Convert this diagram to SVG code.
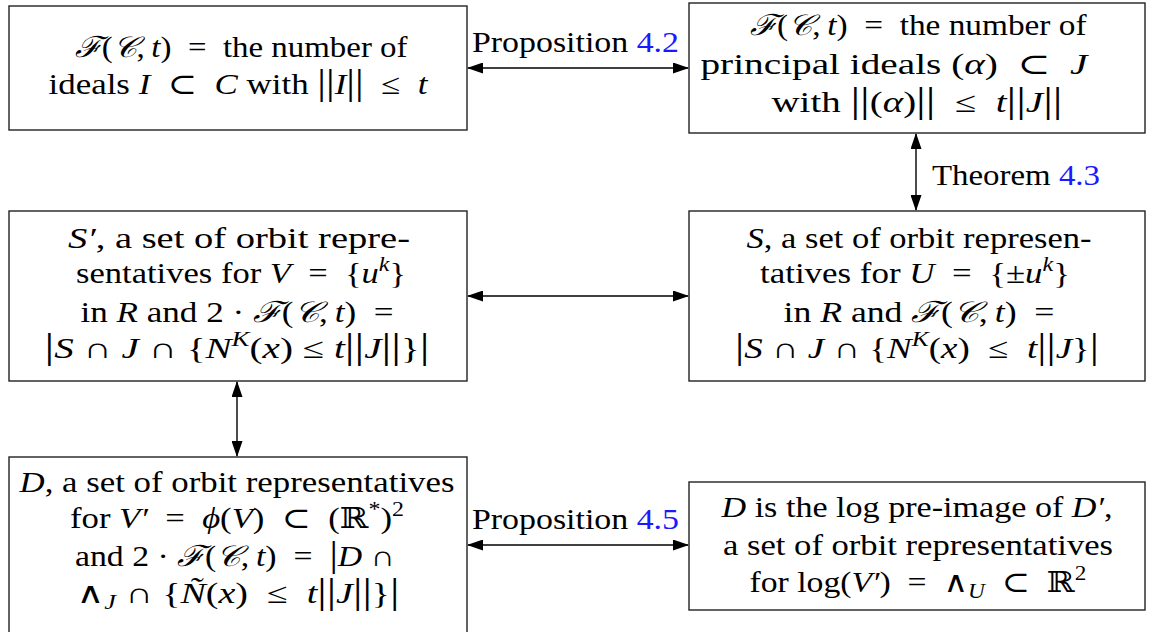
<svg xmlns="http://www.w3.org/2000/svg" width="1153" height="632" viewBox="0 0 1153 632">
<style>
.box{fill:#fff;stroke:#222;stroke-width:1.4}
.t{font-family:"Liberation Serif","DejaVu Serif",serif;font-size:29px;fill:#000;text-anchor:middle}
.l{font-family:"Liberation Serif","DejaVu Serif",serif;font-size:29px;fill:#000}
.i{font-style:italic}
.s{font-size:20px}
.b{font-size:36px}
.ref{fill:#1a1aff}
.c{stroke:#000;stroke-width:1.4;fill:none;marker-start:url(#ah);marker-end:url(#ah)}
</style>
<defs>
<marker id="ah" viewBox="0 0 16 11" refX="15" refY="5.5" markerWidth="16" markerHeight="11" markerUnits="userSpaceOnUse" orient="auto-start-reverse">
<path d="M0,0 L16,5.5 L0,11 Z" fill="#000"/>
</marker>
</defs>
<rect width="1153" height="632" fill="#fff"/>

<g id="connectors">
<line class="c" x1="468" y1="68" x2="688" y2="68"/>
<line class="c" x1="916" y1="134" x2="916" y2="210"/>
<line class="c" x1="468" y1="296" x2="688" y2="296"/>
<line class="c" x1="237" y1="382" x2="237" y2="456"/>
<line class="c" x1="468" y1="545" x2="688" y2="545"/>
<text class="l" x="472" y="52" textLength="207" lengthAdjust="spacingAndGlyphs">Proposition <tspan class="ref">4.2</tspan></text>
<text class="l" x="932" y="185" textLength="168" lengthAdjust="spacingAndGlyphs">Theorem <tspan class="ref">4.3</tspan></text>
<text class="l" x="472" y="529" textLength="207" lengthAdjust="spacingAndGlyphs">Proposition <tspan class="ref">4.5</tspan></text>
</g>

<g id="n1">
<rect class="box" x="9" y="6" width="458" height="124"/>
<text class="t" x="241" y="57" textLength="333" lengthAdjust="spacingAndGlyphs"><tspan class="i">ℱ</tspan>(<tspan class="i">𝒞</tspan>,&#8201;<tspan class="i">t</tspan>)&#160; = &#160;the number of</text>
<text class="t" x="238" y="94" textLength="379" lengthAdjust="spacingAndGlyphs">ideals <tspan class="i">I</tspan>&#160; ⊂ &#160;<tspan class="i">C</tspan> with <tspan class="b">||</tspan><tspan class="i">I</tspan><tspan class="b">||</tspan>&#160; ≤ &#160;<tspan class="i">t</tspan></text>
</g>

<g id="n2">
<rect class="box" x="689" y="3" width="456" height="130"/>
<text class="t" x="918" y="35" textLength="337" lengthAdjust="spacingAndGlyphs"><tspan class="i">ℱ</tspan>(<tspan class="i">𝒞</tspan>,&#8201;<tspan class="i">t</tspan>)&#160; = &#160;the number of</text>
<text class="t" x="894" y="74" textLength="387" lengthAdjust="spacingAndGlyphs">principal ideals (<tspan class="i">α</tspan>)&#160; ⊂ &#160;<tspan class="i">J</tspan></text>
<text class="t" x="917" y="112" textLength="291" lengthAdjust="spacingAndGlyphs">with <tspan class="b">||</tspan>(<tspan class="i">α</tspan>)<tspan class="b">||</tspan>&#160; ≤ &#160;<tspan class="i">t</tspan><tspan class="b">||</tspan><tspan class="i">J</tspan><tspan class="b">||</tspan></text>
</g>

<g id="n3">
<rect class="box" x="9" y="211" width="458" height="170"/>
<text class="t" x="239" y="248" textLength="342" lengthAdjust="spacingAndGlyphs"><tspan class="i">S′</tspan>, a set of orbit repre-</text>
<text class="t" x="241" y="283" textLength="330" lengthAdjust="spacingAndGlyphs">sentatives for <tspan class="i">V</tspan>&#160; = &#160;{<tspan class="i">u</tspan><tspan class="i s" dy="-12">k</tspan><tspan dy="12">}</tspan></text>
<text class="t" x="237" y="322" textLength="313" lengthAdjust="spacingAndGlyphs">in <tspan class="i">R</tspan> and 2 · <tspan class="i">ℱ</tspan>(<tspan class="i">𝒞</tspan>,&#8201;<tspan class="i">t</tspan>)&#160; =</text>
<text class="t" x="237" y="358" textLength="385" lengthAdjust="spacingAndGlyphs"><tspan class="b">|</tspan><tspan class="i">S</tspan> ∩ <tspan class="i">J</tspan> ∩ {<tspan class="i">N</tspan><tspan class="i s" dy="-12">K</tspan><tspan dy="12">(</tspan><tspan class="i">x</tspan>) ≤ <tspan class="i">t</tspan><tspan class="b">||</tspan><tspan class="i">J</tspan><tspan class="b">||</tspan>}<tspan class="b">|</tspan></text>
</g>

<g id="n4">
<rect class="box" x="689" y="211" width="456" height="170"/>
<text class="t" x="919" y="248" textLength="345" lengthAdjust="spacingAndGlyphs"><tspan class="i">S</tspan>, a set of orbit represen-</text>
<text class="t" x="915" y="283" textLength="310" lengthAdjust="spacingAndGlyphs">tatives for <tspan class="i">U</tspan>&#160; = &#160;{±<tspan class="i">u</tspan><tspan class="i s" dy="-12">k</tspan><tspan dy="12">}</tspan></text>
<text class="t" x="919" y="322" textLength="271" lengthAdjust="spacingAndGlyphs">in <tspan class="i">R</tspan> and <tspan class="i">ℱ</tspan>(<tspan class="i">𝒞</tspan>,&#8201;<tspan class="i">t</tspan>)&#160; =</text>
<text class="t" x="917" y="358" textLength="364" lengthAdjust="spacingAndGlyphs"><tspan class="b">|</tspan><tspan class="i">S</tspan> ∩ <tspan class="i">J</tspan> ∩ {<tspan class="i">N</tspan><tspan class="i s" dy="-12">K</tspan><tspan dy="12">(</tspan><tspan class="i">x</tspan>)&#160; ≤ &#160;<tspan class="i">t</tspan><tspan class="b">||</tspan><tspan class="i">J</tspan>}<tspan class="b">|</tspan></text>
</g>

<g id="n5">
<rect class="box" x="9" y="457" width="458" height="185"/>
<text class="t" x="237" y="492" textLength="435" lengthAdjust="spacingAndGlyphs"><tspan class="i">D</tspan>, a set of orbit representatives</text>
<text class="t" x="237" y="528" textLength="334" lengthAdjust="spacingAndGlyphs">for <tspan class="i">V′</tspan>&#160; = &#160;<tspan class="i">ϕ</tspan>(<tspan class="i">V</tspan>)&#160; ⊂ &#160;(ℝ<tspan class="s" dy="-12">*</tspan><tspan dy="12">)</tspan><tspan class="s" dy="-12">2</tspan></text>
<text class="t" x="235" y="566" textLength="320" lengthAdjust="spacingAndGlyphs">and 2 · <tspan class="i">ℱ</tspan>(<tspan class="i">𝒞</tspan>,&#8201;<tspan class="i">t</tspan>)&#160; = &#160;<tspan class="b">|</tspan><tspan class="i">D</tspan> ∩</text>
<text class="t" x="238" y="603" textLength="323" lengthAdjust="spacingAndGlyphs">∧<tspan class="i s" dy="6">J</tspan><tspan dy="-6"> ∩ {</tspan><tspan class="i">Ñ</tspan>(<tspan class="i">x</tspan>)&#160; ≤ &#160;<tspan class="i">t</tspan><tspan class="b">||</tspan><tspan class="i">J</tspan><tspan class="b">||</tspan>}<tspan class="b">|</tspan></text>
</g>

<g id="n6">
<rect class="box" x="689" y="482" width="456" height="128"/>
<text class="t" x="917" y="517" textLength="391" lengthAdjust="spacingAndGlyphs"><tspan class="i">D</tspan> is the log pre-image of <tspan class="i">D′</tspan>,</text>
<text class="t" x="918" y="555" textLength="390" lengthAdjust="spacingAndGlyphs">a set of orbit representatives</text>
<text class="t" x="918" y="592" textLength="337" lengthAdjust="spacingAndGlyphs">for log(<tspan class="i">V′</tspan>)&#160; = &#160;∧<tspan class="i s" dy="6">U</tspan><tspan dy="-6">&#160; ⊂ &#160;ℝ</tspan><tspan class="s" dy="-12">2</tspan></text>
</g>
</svg>
